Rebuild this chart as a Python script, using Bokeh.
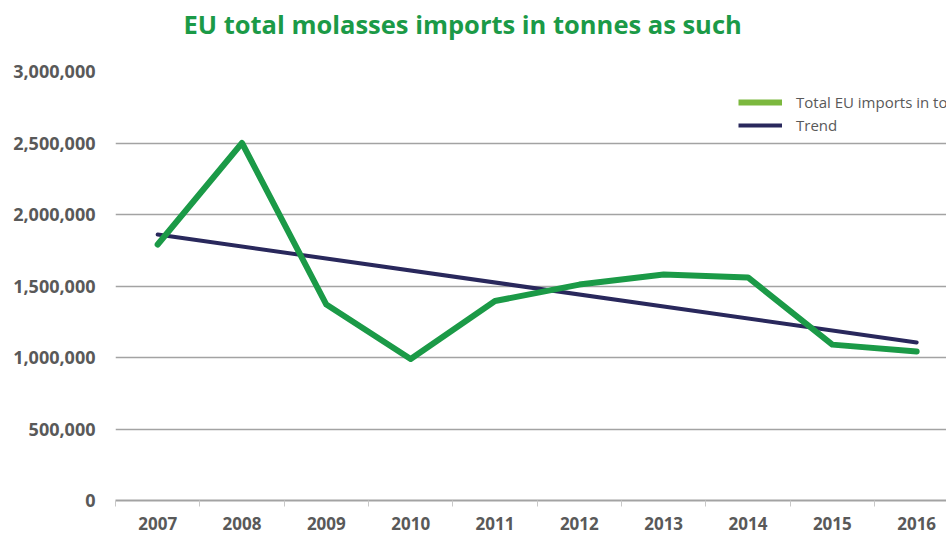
import math
from bokeh.plotting import figure
from bokeh.models import (Range1d, FixedTicker, NumeralTickFormatter, Title,
                          Legend, LegendItem)
from bokeh.embed import file_html
from bokeh.resources import INLINE

# ---- data ----
years = [2007, 2008, 2009, 2010, 2011, 2012, 2013, 2014, 2015, 2016]
imports = [1790000, 2500000, 1370000, 990000, 1395000, 1510000, 1580000,
           1560000, 1090000, 1042000]
trend_years = [2007, 2016]
trend_values = [1860000, 1105000]
y_ticks = [0, 500000, 1000000, 1500000, 2000000, 2500000, 3000000]
x_boundaries = [2006.5, 2007.5, 2008.5, 2009.5, 2010.5, 2011.5, 2012.5,
                2013.5, 2014.5, 2015.5, 2016.5]
title_text = "EU total molasses imports in tonnes as such"
series_label = "Total EU imports in tonnes"
trend_label = "Trend"

GREEN = "#1b9a47"
LEGEND_GREEN = "#7cb83e"
NAVY = "#29285c"
GRAY_TXT = "#595959"
GRID = "#a3a3a3"
FONT = "Open Sans"

p = figure(width=946, height=534, output_backend="svg", toolbar_location=None,
           x_range=Range1d(2006.5, 2016.354), y_range=Range1d(0, 3000000),
           min_border_left=115, min_border_right=0, min_border_top=71,
           min_border_bottom=34)
p.outline_line_color = None
p.background_fill_color = "white"
p.border_fill_color = "white"

# axes
p.xaxis.ticker = FixedTicker(ticks=years, minor_ticks=x_boundaries)
p.xaxis.major_tick_line_color = None
p.xaxis.major_tick_out = 0
p.xaxis.major_tick_in = 0
p.xaxis.minor_tick_line_color = "#c8c8c8"
p.xaxis.minor_tick_in = 0
p.xaxis.minor_tick_out = 6
p.xaxis.axis_line_color = GRID
p.xaxis.axis_line_width = 2
p.xaxis.major_label_standoff = 10
p.xaxis.major_label_text_font = FONT
p.xaxis.major_label_text_font_style = "bold"
p.xaxis.major_label_text_font_size = "17px"
p.xaxis.major_label_text_color = GRAY_TXT

p.yaxis.ticker = FixedTicker(ticks=y_ticks)
p.yaxis.formatter = NumeralTickFormatter(format="0,0")
p.yaxis.axis_line_color = None
p.yaxis.major_tick_line_color = None
p.yaxis.major_tick_out = 0
p.yaxis.major_tick_in = 0
p.yaxis.minor_tick_line_color = None
p.yaxis.major_label_standoff = 20
p.yaxis.major_label_text_font = FONT
p.yaxis.major_label_text_font_style = "bold"
p.yaxis.major_label_text_font_size = "18px"
p.yaxis.major_label_text_color = GRAY_TXT

p.xgrid.grid_line_color = None
p.ygrid.ticker = FixedTicker(ticks=y_ticks)
p.ygrid.grid_line_color = GRID
p.ygrid.grid_line_width = 1.5

# lines
p.line(trend_years, trend_values, line_color=NAVY, line_width=4,
       line_cap="round")
p.line(years, imports, line_color=GREEN, line_width=6, line_cap="round",
       line_join="round")

# legend swatch renderers (one undefined point each: nothing drawn in plot)
lg1 = p.line([math.nan], [math.nan], line_color=LEGEND_GREEN, line_width=6)
lg2 = p.line([math.nan], [math.nan], line_color=NAVY, line_width=4)
legend = Legend(items=[LegendItem(label=series_label, renderers=[lg1]),
                       LegendItem(label=trend_label, renderers=[lg2])],
                location=(623, 365), orientation="vertical",
                padding=0, margin=0, spacing=3,
                glyph_width=44, glyph_height=20, label_height=20,
                label_standoff=14, border_line_color=None,
                background_fill_alpha=0,
                label_text_font=FONT, label_text_font_size="15px",
                label_text_color=GRAY_TXT)
p.add_layout(legend, "center")

# title
p.add_layout(Title(text=title_text, align="left", offset=68, standoff=0,
                   padding=dict(left=0, right=0, top=2, bottom=31),
                   text_font=FONT, text_font_style="bold",
                   text_font_size="25.5px", text_color=GREEN), "above")

open("out.html", "w").write(file_html(p, INLINE))
